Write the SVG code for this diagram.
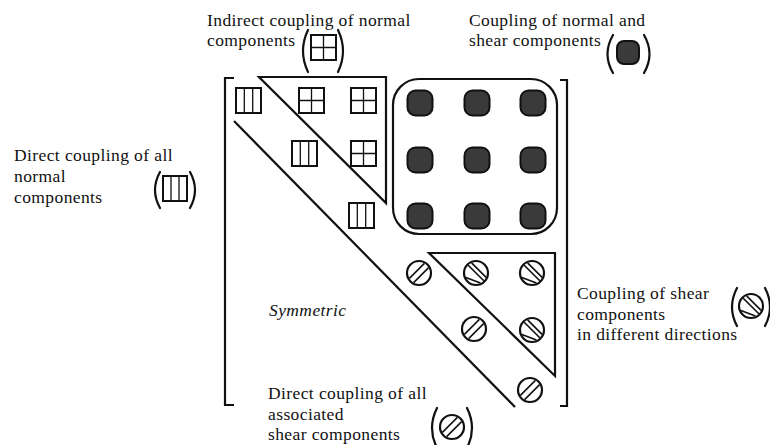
<svg xmlns="http://www.w3.org/2000/svg" xmlns:xlink="http://www.w3.org/1999/xlink" width="770" height="445" viewBox="0 0 770 445">
<style>
text{font-family:"Times New Roman",Times,"Liberation Serif",Tinos,"Noto Serif","DejaVu Serif",serif;font-size:17.5px;letter-spacing:0.4px;fill:#111}
.it{font-style:italic}
.ln{fill:none;stroke:#111;stroke-width:2.2}
.par{fill:none;stroke:#111;stroke-width:2.2;stroke-linecap:round}
.box{fill:#fff;stroke:#111;stroke-width:2}
.in{stroke:#111;stroke-width:1.3;fill:none}
.dk{fill:#3a3a3a;stroke:#111;stroke-width:2}
.cir{fill:#fff;stroke:#111;stroke-width:2.2}
.h{stroke:#111;stroke-width:1.6;fill:none}
</style>
<defs>
<g id="sqD">
<rect class="box" x="0" y="0" width="25" height="25"/>
<path class="in" d="M8.3,0V25M16.7,0V25"/>
</g>
<g id="sqI">
<rect class="box" x="0" y="0" width="25" height="25"/>
<path class="in" d="M12.5,0V25M0,12.5H25"/>
</g>
<rect id="sqS" class="dk" x="-12.5" y="-12.5" width="25" height="25" rx="8"/>
<g id="ciD">
<circle class="cir" cx="0" cy="0" r="12"/>
<path class="h" d="M9.6,-5.4L-5.4,9.6M5.4,-9.6L-9.6,5.4"/>
</g>
<g id="ciX">
<circle class="cir" cx="0" cy="0" r="12"/>
<path class="h" d="M-7.8,-7.8L7.8,7.8M-4.4,-10.1L10.1,4.4M-10.1,4.4L4.4,10.1"/>
</g>
</defs>

<g id="matrix-frame">
<path class="ln" d="M234,78H225V405H234"/>
<path class="ln" d="M560,80H567V406H560"/>
</g>

<g id="connectors">
<path class="ln" d="M234,121L515,407"/>
</g>

<g id="indirect-normal-region">
<path class="ln" d="M259,77H386V203Z"/>
<use xlink:href="#sqI" x="299" y="88"/>
<use xlink:href="#sqI" x="351" y="88"/>
<use xlink:href="#sqI" x="351" y="141"/>
</g>

<g id="direct-normal-diagonal">
<use xlink:href="#sqD" x="236" y="88"/>
<use xlink:href="#sqD" x="292" y="141"/>
<use xlink:href="#sqD" x="349" y="203"/>
</g>

<g id="normal-shear-region">
<rect class="ln" x="393" y="79" width="164" height="155" rx="26"/>
<use xlink:href="#sqS" x="420" y="103"/>
<use xlink:href="#sqS" x="477" y="103"/>
<use xlink:href="#sqS" x="533" y="103"/>
<use xlink:href="#sqS" x="420" y="160"/>
<use xlink:href="#sqS" x="477" y="160"/>
<use xlink:href="#sqS" x="533" y="160"/>
<use xlink:href="#sqS" x="420" y="216"/>
<use xlink:href="#sqS" x="477" y="216"/>
<use xlink:href="#sqS" x="533" y="216"/>
</g>

<g id="shear-directions-region">
<path class="ln" d="M429,253H555V376Z"/>
<use xlink:href="#ciX" x="476" y="273"/>
<use xlink:href="#ciX" x="532" y="273"/>
<use xlink:href="#ciX" x="532" y="330"/>
</g>

<g id="direct-shear-diagonal">
<use xlink:href="#ciD" x="419" y="273"/>
<use xlink:href="#ciD" x="474" y="329"/>
<use xlink:href="#ciD" x="530" y="390"/>
</g>

<g id="symmetric-label">
<text class="it" x="269" y="316">Symmetric</text>
</g>

<g id="legend-indirect">
<text x="207" y="26">Indirect coupling of normal</text>
<text x="207" y="45.5">components</text>
<path class="par" d="M308,30Q298,51 308,72"/>
<path class="par" d="M338,30Q348,51 338,72"/>
<use xlink:href="#sqI" x="311" y="35"/>
</g>

<g id="legend-normal-shear">
<text x="469" y="26">Coupling of normal and</text>
<text x="469" y="46">shear components</text>
<path class="par" d="M613,35Q602,54 613,73"/>
<path class="par" d="M644,35Q655,54 644,73"/>
<rect class="dk" x="617" y="41" width="22" height="23" rx="7"/>
</g>

<g id="legend-direct-normal">
<text x="14" y="160.5">Direct coupling of all</text>
<text x="14" y="181.5">normal</text>
<text x="14" y="202.5">components</text>
<path class="par" d="M160,172Q150,190 160,208"/>
<path class="par" d="M190,172Q200,190 190,208"/>
<rect class="box" x="163" y="176" width="24" height="25"/>
<path class="in" d="M171,176V201M179,176V201"/>
</g>

<g id="legend-direct-shear">
<text x="268" y="399">Direct coupling of all</text>
<text x="268" y="419.5">associated</text>
<text x="268" y="440">shear components</text>
<path class="par" d="M437,408Q427,428 437,448"/>
<path class="par" d="M467,408Q477,428 467,448"/>
<use xlink:href="#ciD" x="452" y="427"/>
</g>

<g id="legend-shear-directions">
<text x="577" y="299">Coupling of shear</text>
<text x="577" y="320">components</text>
<text x="577" y="340">in different directions</text>
<path class="par" d="M737,288Q727,307 737,326"/>
<path class="par" d="M765,288Q775,307 765,326"/>
<use xlink:href="#ciX" x="751" y="306"/>
</g>
</svg>
